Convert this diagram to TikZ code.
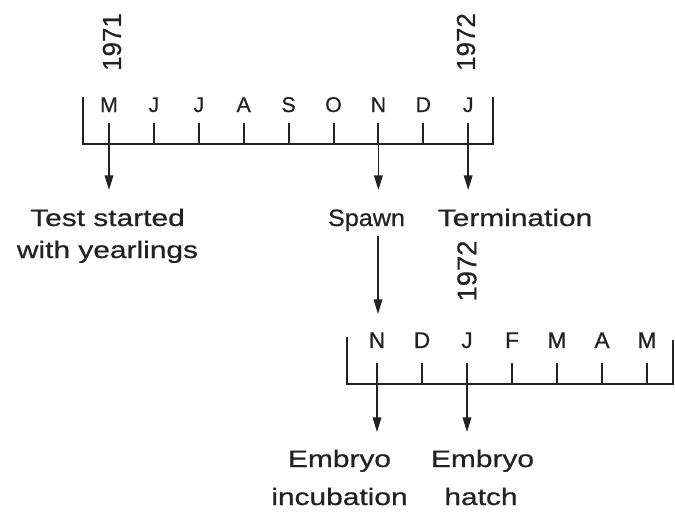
\documentclass[tikz,border=0pt]{standalone}
\usepackage{fontspec}
\setmainfont{Liberation Sans}[FakeBold=0.6]
\usetikzlibrary{arrows.meta}
\definecolor{ink}{HTML}{222222}
\tikzset{
  axis/.style={draw=ink, line width=1.8pt, line join=miter},
  tick/.style={draw=ink, line width=1.5pt},
  arr/.style={draw=ink, line width=1.1pt, -{Triangle[length=11pt,width=6.5pt]}},
  monthT/.style={text=ink, inner sep=0pt, anchor=base, font=\fontsize{16}{18}\selectfont},
  monthB/.style={text=ink, inner sep=0pt, anchor=base, font=\fontsize{17}{19}\selectfont},
  yearT/.style={text=ink, inner sep=0pt, rotate=90, font=\fontsize{19.5}{22}\selectfont},
  yearB/.style={text=ink, inner sep=0pt, rotate=90, font=\fontsize{20.5}{23}\selectfont},
  lbl/.style={text=ink, inner sep=0pt, anchor=base, font=\fontsize{17.8}{20}\selectfont},
}
\newcommand{\wide}[1]{\scalebox{1.26}[1]{#1}}
\begin{document}
\begin{tikzpicture}[x=0.75pt, y=-0.75pt]
\useasboundingbox (0,0) rectangle (675,511);
% ---------- top axis ----------
\draw[axis] (83,97) -- (83,144) -- (493,144) -- (493,97);
\foreach \m [count=\i from 0] in {M,J,J,A,S,O,N,D,J} {
  \pgfmathsetmacro{\xx}{109+44.9*\i}
  \coordinate (t\i) at (\xx,144);
  \draw[tick] (\xx,123) -- (t\i);
  \node[monthT] (tm\i) at (\xx,112) {\m};
}
\node[yearT] (y1971) at (112,42) {1971};
\node[yearT] (y1972a) at (466,42) {1972};
% top arrows
\path (t0) ++(0,46) coordinate (a0);
\path (t6) ++(0,46) coordinate (a6);
\path (t8) ++(0,46) coordinate (a8);
\draw[arr] (t0) -- (a0);
\draw[arr] (t6) -- (a6);
\draw[arr] (t8) -- (a8);
% top labels
\node[lbl] (test1) at (107.5,226) {\wide{Test started}};
\node[lbl] (test2) at (107.5,258) {\wide{with yearlings}};
\node[lbl] (spawn) at (366.5,226) {\scalebox{1.06}[1]{Spawn}};
\node[lbl] (term) at (515,226) {\wide{Termination}};
% spawn arrow
\coordinate (s0) at (378,236);
\coordinate (s1) at (378,314);
\draw[arr] (s0) -- (s1);
% ---------- bottom axis ----------
\draw[axis] (347,337) -- (347,384) -- (673,384) -- (673,340);
\foreach \m [count=\i from 0] in {N,D,J,F,M,A,M} {
  \pgfmathsetmacro{\xx}{377+45*\i}
  \coordinate (b\i) at (\xx,384);
  \draw[tick] (\xx,363) -- (b\i);
  \node[monthB] (bm\i) at (\xx,348) {\m};
}
\node[yearB] (y1972b) at (467,271) {1972};
\path (b0) ++(0,48) coordinate (c0);
\path (b2) ++(0,48) coordinate (c2);
\draw[arr] (b0) -- (c0);
\draw[arr] (b2) -- (c2);
\node[lbl] (emb1) at (339.5,467) {\wide{Embryo}};
\node[lbl] (inc) at (339.5,505) {\wide{incubation}};
\node[lbl] (emb2) at (482.5,467) {\wide{Embryo}};
\node[lbl] (hatch) at (481,505) {\wide{hatch}};
\end{tikzpicture}
\end{document}
